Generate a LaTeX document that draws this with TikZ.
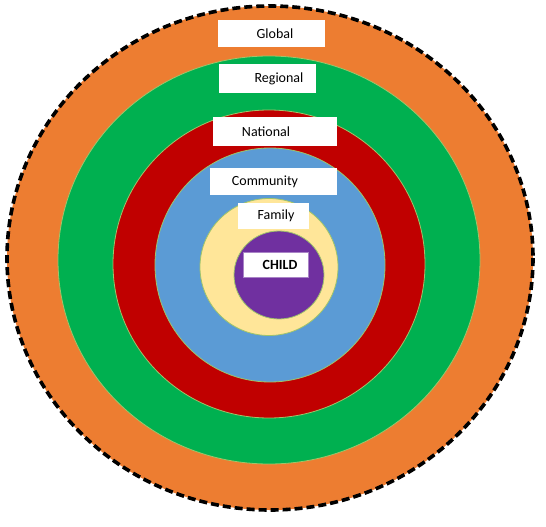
\documentclass[tikz,border=0pt]{standalone}
\usepackage{fontspec}
\setmainfont{Carlito}
\usepackage{tikz}
\usetikzlibrary{positioning}
\usepackage{xcolor}
\definecolor{globalOrange}{HTML}{ED7D31}
\definecolor{regionGreen}{HTML}{00B050}
\definecolor{nationRed}{HTML}{C00000}
\definecolor{commBlue}{HTML}{5B9BD5}
\definecolor{famYellow}{HTML}{FFE699}
\definecolor{childPurple}{HTML}{7030A0}
\definecolor{rim}{HTML}{9FC46A}

\begin{document}
\begin{tikzpicture}[x=1pt, y=-1pt, font=\fontsize{14}{16}\selectfont,
  ring/.style={draw=rim, line width=0.8pt},
  tag/.style={fill=white, inner sep=0pt, minimum height=27pt}]
\useasboundingbox (0,0) rectangle (546,527);
% rings, outside in
\fill[globalOrange] (270,258) ellipse [x radius=263, y radius=252];
\draw[black, line width=3.6pt, dash pattern=on 8pt off 4pt] (270,258) ellipse [x radius=263, y radius=252];
\filldraw[ring, fill=regionGreen] (269,260) ellipse [x radius=211, y radius=204];
\filldraw[ring, fill=nationRed] (269,264) ellipse [x radius=156, y radius=154];
\filldraw[ring, fill=commBlue] (270,265) ellipse [x radius=115, y radius=117];
\filldraw[ring, fill=famYellow] (269,267) ellipse [x radius=69, y radius=68.5];
\filldraw[ring, fill=childPurple] (279,275) ellipse [x radius=45, y radius=44];
% labels
\node[tag, minimum width=107pt] (global) at (271.5,34) {\hspace*{7pt}Global};
\node[tag, minimum width=97pt, minimum height=29pt] (regional) at (267.5,78.5) {\hspace*{23pt}Regional};
\node[tag, minimum width=124pt, minimum height=29pt] (national) at (275,131.5) {National\hspace*{18pt}};
\node[tag, minimum width=127pt] (community) at (273.5,181.5) {Community\hspace*{17pt}};
\node[tag, minimum width=71pt, minimum height=26pt] (family) at (273.5,216) {\hspace*{5pt}Family};
\node[tag, minimum width=65pt, minimum height=25pt, draw=childPurple!60, font=\fontsize{14}{16}\selectfont\bfseries] (child) at (275.5,264.5) {\hspace*{9pt}CHILD};
\end{tikzpicture}
\end{document}
